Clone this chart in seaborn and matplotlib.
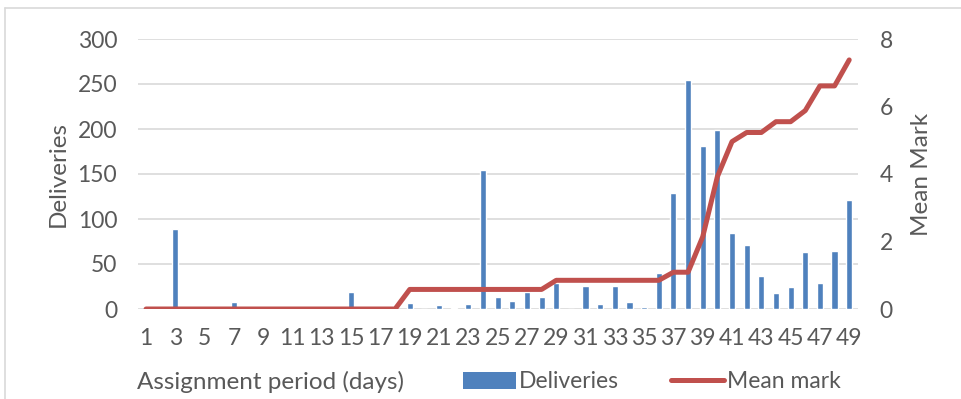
import matplotlib
matplotlib.use("Agg")
import matplotlib.pyplot as plt
import seaborn as sns
import pandas as pd
from matplotlib.patches import Patch
from matplotlib.lines import Line2D

days = list(range(1, 50))
deliveries = [0, 0, 89, 0, 0, 0, 8, 0, 0, 0,
              0, 0, 0, 0, 19, 0, 0, 0, 7, 0,
              5, 1, 6, 154, 13, 9, 19, 13, 29, 0,
              26, 6, 26, 8, 2, 40, 129, 255, 181, 199,
              85, 71, 37, 18, 25, 63, 29, 64, 121]
mean_mark = [0] * 18 + [0.58] * 10 + [0.85] * 8 + [1.09, 1.09, 2.14, 3.92, 4.96,
             5.23, 5.23, 5.55, 5.55, 5.88, 6.61, 6.61, 7.38]
x_ticks = list(range(1, 50, 2))
left_ticks = [0, 50, 100, 150, 200, 250, 300]
right_ticks = [0, 2, 4, 6, 8]

df = pd.DataFrame({"day": days, "deliveries": deliveries, "mean": mean_mark})

sns.set_theme(style="white")
plt.rcParams["font.family"] = ["Lato", "DejaVu Sans"]
txt = "#595959"
blue = "#4F81BD"
red = "#C0504D"
fs = 16.5
lfs = 17.5

fig = plt.figure(figsize=(9.62, 3.99), dpi=100)
W, H = 962, 399
ax = fig.add_axes([138 / W, 1 - 309 / H, (858 - 138) / W, (309 - 39) / H])

sns.barplot(data=df, x="day", y="deliveries", native_scale=True, width=0.42,
            color=blue, saturation=1, ax=ax, zorder=2)
ax.set_xlim(0.45, 49.6)
ax.set_ylim(0, 300)
ax.set_yticks(left_ticks)
ax.set_xticks(x_ticks)
ax.set_xticklabels([str(t) for t in x_ticks])
ax.grid(axis="y", color="#d9d9d9", lw=1.2, zorder=0)
ax.set_axisbelow(True)
for s in ax.spines.values():
    s.set_visible(False)
ax.tick_params(axis="both", length=0, labelsize=fs, colors=txt)
ax.tick_params(axis="x", pad=14)
ax.tick_params(axis="y", pad=15)
ax.set_xlabel("")
ax.set_ylabel("Deliveries", fontsize=lfs, color=txt, labelpad=6)

ax2 = ax.twinx()
sns.lineplot(data=df, x="day", y="mean", color=red, lw=3.6, ax=ax2,
             solid_capstyle="round", solid_joinstyle="round", zorder=3)
ax2.set_ylim(0, 8)
ax2.set_yticks(right_ticks)
for s in ax2.spines.values():
    s.set_visible(False)
ax2.tick_params(axis="y", length=0, labelsize=fs, colors=txt, pad=15.5)
ax2.set_ylabel("Mean Mark", fontsize=lfs, color=txt, labelpad=13)
ax2.set_xlim(0.45, 49.6)

fig.text(137 / W, 1 - 382 / H, "Assignment period (days)", fontsize=lfs,
         color=txt, ha="left", va="center")
handles = [Patch(facecolor=blue, edgecolor="none"),
           Line2D([0], [0], color=red, lw=3.6, solid_capstyle="round")]
leg = fig.legend(handles, ["Deliveries", "Mean mark"], loc="center left",
                 bbox_to_anchor=(463 / W, 1 - 382 / H), ncol=2, frameon=False,
                 fontsize=fs, handlelength=2.3, handletextpad=0.12,
                 columnspacing=2.3, borderpad=0, borderaxespad=0,
                 labelcolor=txt)

# outer chart border (left and top visible)
fig.add_artist(Line2D([5 / W, 5 / W], [0, 1 - 8 / H], color="#d9d9d9", lw=1.2,
                      transform=fig.transFigure))
fig.add_artist(Line2D([5 / W, 1], [1 - 8 / H, 1 - 8 / H], color="#d9d9d9", lw=1.2,
                      transform=fig.transFigure))

fig.savefig("out.png", dpi=100)
